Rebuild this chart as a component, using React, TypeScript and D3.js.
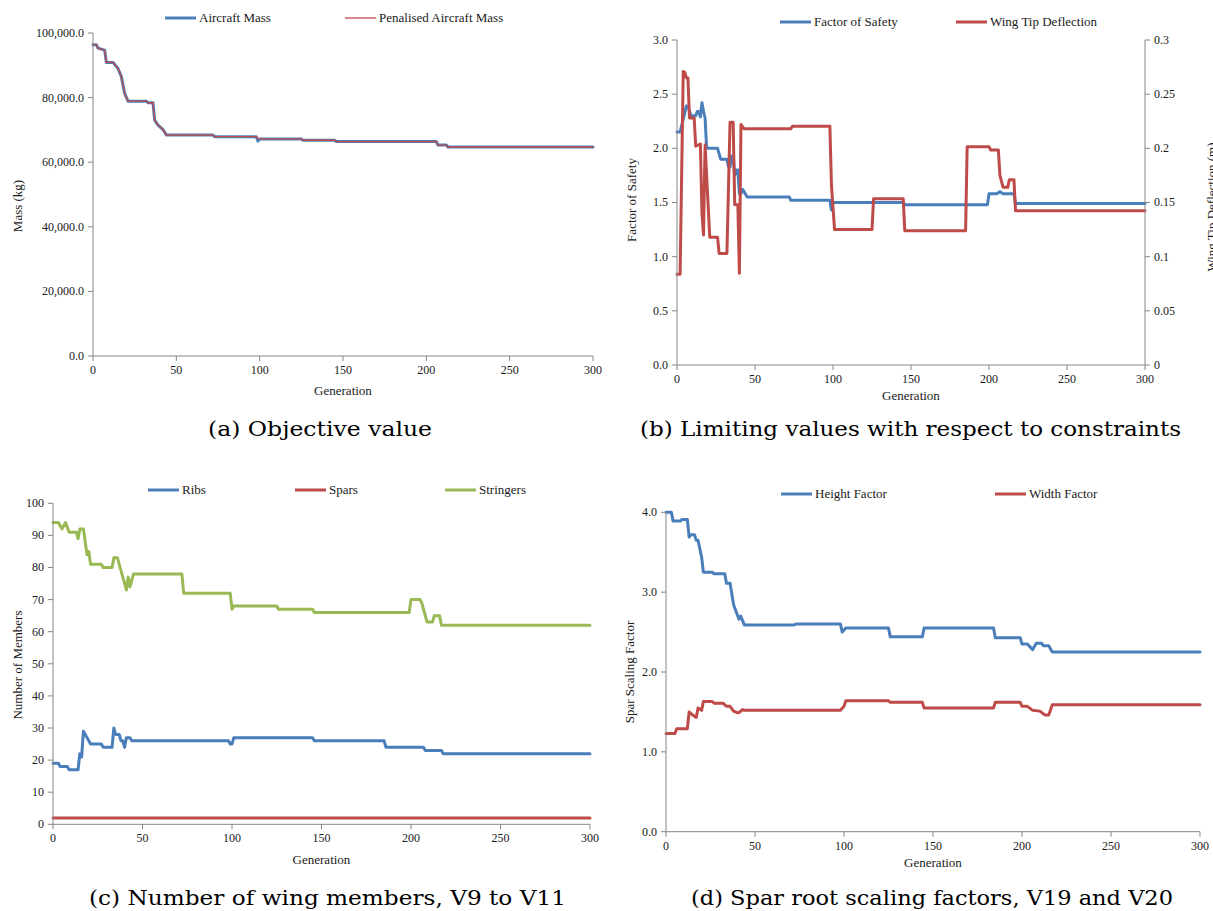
import React from 'react';
import * as d3 from 'd3';

type P = [number, number];

const generationTicks = [0, 50, 100, 150, 200, 250, 300];

// (a) Objective value
const aircraftMass: P[] = [
  [0, 96400], [2, 96400], [3, 95300], [5, 95000], [7, 94700], [8, 90900], [12, 90900], [13, 90300],
  [15, 89000], [17, 86500], [19, 81300], [21, 78900], [32, 78900], [33, 78400], [36, 78400],
  [37, 73000], [39, 71500], [42, 70100], [44, 68400], [72, 68400], [73, 67900], [98, 67900],
  [99, 66500], [100, 67200], [125, 67200], [126, 66800], [145, 66800], [146, 66400], [206, 66400],
  [207, 65300], [212, 65300], [213, 64700], [300, 64700],
];
const penalisedMass: P[] = [
  [0, 96400], [2, 96400], [3, 95300], [5, 95000], [7, 94700], [8, 90900], [12, 90900], [13, 90300],
  [15, 89000], [17, 86500], [19, 81300], [21, 78900], [32, 78900], [33, 78400], [36, 78400],
  [37, 73000], [39, 71500], [42, 70100], [44, 68400], [72, 68400], [73, 67900], [98, 67900],
  [99, 67200], [125, 67200], [126, 66800], [145, 66800], [146, 66400], [206, 66400],
  [207, 65300], [212, 65300], [213, 64700], [300, 64700],
];
const massTicks = [0, 20000, 40000, 60000, 80000, 100000];

// (b) Limiting values
const factorOfSafety: P[] = [
  [0, 2.15], [2, 2.15], [6, 2.39], [7, 2.39], [9, 2.30], [12, 2.30], [13, 2.34], [14, 2.34],
  [15, 2.29], [16, 2.42], [17, 2.34], [18, 2.28], [19, 2.0], [26, 2.0], [28, 1.90], [32, 1.90],
  [33, 1.83], [34, 1.83], [35, 1.93], [36, 1.93], [37, 1.75], [38, 1.80], [39, 1.80], [40, 1.58],
  [41, 1.58], [42, 1.62], [43, 1.60], [45, 1.55], [72, 1.55], [73, 1.52], [98, 1.52], [99, 1.43],
  [100, 1.50], [145, 1.50], [146, 1.48], [199, 1.48], [200, 1.58], [205, 1.58], [207, 1.60],
  [209, 1.58], [216, 1.58], [217, 1.49], [300, 1.49],
];
const wingTipDeflection: P[] = [
  [0, 0.0837], [2, 0.0837], [4, 0.271], [5, 0.27], [6, 0.265], [7, 0.265], [8, 0.228], [11, 0.228],
  [12, 0.202], [15, 0.204], [16, 0.14], [17, 0.12], [18, 0.203], [21, 0.118], [26, 0.118],
  [27, 0.103], [32, 0.103], [34, 0.224], [36, 0.224], [37, 0.148], [39, 0.148], [40, 0.0846],
  [41, 0.222], [43, 0.218], [73, 0.218], [74, 0.2205], [98, 0.2205], [99, 0.166], [101, 0.125],
  [125, 0.125], [126, 0.1535], [145, 0.1535], [146, 0.124], [185, 0.124], [186, 0.2015],
  [200, 0.2015], [201, 0.1985], [206, 0.1985], [207, 0.175], [209, 0.164], [212, 0.164],
  [213, 0.171], [216, 0.171], [217, 0.1425], [300, 0.1425],
];
const fosTicks = [0, 0.5, 1, 1.5, 2, 2.5, 3];
const deflectionTicks = [0, 0.05, 0.1, 0.15, 0.2, 0.25, 0.3];

// (c) Number of wing members
const ribs: P[] = [
  [0, 19], [3, 19], [4, 18], [8, 18], [9, 17], [14, 17], [15, 22], [16, 21], [17, 29], [18, 28],
  [19, 27], [20, 26], [21, 25], [27, 25], [28, 24], [33, 24], [34, 30], [35, 28], [37, 28],
  [38, 26], [39, 26], [40, 24], [41, 27], [43, 27], [44, 26], [98, 26], [99, 25], [100, 25],
  [101, 27], [145, 27], [146, 26], [185, 26], [186, 24], [207, 24], [208, 23], [217, 23],
  [218, 22], [300, 22],
];
const spars: P[] = [[0, 2], [300, 2]];
const stringers: P[] = [
  [0, 94], [3, 94], [5, 92], [7, 94], [9, 91], [13, 91], [14, 89], [15, 92], [17, 92], [18, 88],
  [19, 84], [20, 85], [21, 81], [27, 81], [28, 80], [33, 80], [34, 83], [36, 83], [39, 77],
  [41, 73], [42, 77], [43, 74], [45, 78], [72, 78], [73, 72], [99, 72], [100, 67], [101, 68],
  [125, 68], [126, 67], [145, 67], [146, 66], [199, 66], [200, 70], [205, 70], [206, 69],
  [207, 67], [209, 63], [212, 63], [213, 65], [216, 65], [217, 62], [300, 62],
];
const memberTicks = [0, 10, 20, 30, 40, 50, 60, 70, 80, 90, 100];

// (d) Spar root scaling factors
const heightFactor: P[] = [
  [0, 4.0], [3, 4.0], [4, 3.89], [8, 3.89], [9, 3.91], [12, 3.91], [13, 3.69], [14, 3.72],
  [16, 3.72], [17, 3.65], [18, 3.65], [20, 3.44], [21, 3.25], [26, 3.25], [27, 3.23], [33, 3.23],
  [34, 3.11], [36, 3.11], [38, 2.84], [39, 2.78], [41, 2.66], [42, 2.70], [44, 2.59], [72, 2.59],
  [73, 2.60], [98, 2.60], [99, 2.50], [101, 2.55], [125, 2.55], [126, 2.44], [144, 2.44],
  [145, 2.55], [184, 2.55], [185, 2.43], [199, 2.43], [200, 2.35], [203, 2.35], [206, 2.28],
  [208, 2.36], [211, 2.36], [212, 2.33], [215, 2.33], [217, 2.25], [300, 2.25],
];
const widthFactor: P[] = [
  [0, 1.23], [5, 1.23], [6, 1.29], [12, 1.29], [13, 1.50], [15, 1.46], [17, 1.43], [18, 1.55],
  [20, 1.52], [21, 1.63], [26, 1.63], [27, 1.61], [32, 1.61], [34, 1.57], [36, 1.57], [38, 1.51],
  [40, 1.49], [41, 1.49], [43, 1.53], [44, 1.52], [98, 1.52], [100, 1.57], [101, 1.64],
  [125, 1.64], [126, 1.62], [144, 1.62], [145, 1.55], [184, 1.55], [185, 1.62], [199, 1.62],
  [200, 1.57], [203, 1.57], [206, 1.52], [210, 1.51], [213, 1.46], [215, 1.46], [217, 1.59],
  [300, 1.59],
];
const factorTicks = [0, 1, 2, 3, 4];

const BLUE = '#4A7EBB';
const RED = '#BE4B48';
const GREEN = '#98B954';
const AXIS = '#868686';
const TEXT = '#1a1a1a';
const SERIF = "'Liberation Serif', serif";
const CAPTION_FONT = "'DejaVu Serif', serif";

type Series = { data: P[]; color: string; width: number; axis?: 'right' };
type Legend = { label: string; color: string; width: number; x: number };

type PanelProps = {
  x0: number; x1: number; yTop: number; yBot: number;
  yMax: number; yTicks: number[]; yFmt: (v: number) => string;
  yLabel: string; yLabelX: number; yLabelY: number;
  right?: { max: number; ticks: number[]; fmt: (v: number) => string; label: string; labelX: number; labelY: number };
  series: Series[];
  legend: Legend[]; legendY: number;
  genLabelY: number;
  caption: string; captionX: number; captionY: number; captionLen: number;
};

function Panel(p: PanelProps) {
  const x = d3.scaleLinear().domain([0, 300]).range([p.x0, p.x1]);
  const y = d3.scaleLinear().domain([0, p.yMax]).range([p.yBot, p.yTop]);
  const yr = p.right ? d3.scaleLinear().domain([0, p.right.max]).range([p.yBot, p.yTop]) : null;
  const txt = { fontFamily: SERIF, fill: TEXT } as const;
  return (
    <g>
      {p.series.map((s, i) => {
        const ys = s.axis === 'right' && yr ? yr : y;
        const line = d3.line<P>().x(d => x(d[0])).y(d => ys(d[1]));
        return (
          <path key={i} d={line(s.data) || ''} fill="none" stroke={s.color} strokeWidth={s.width}
            strokeLinejoin="round" strokeLinecap="round" />
        );
      })}
      <line x1={p.x0} x2={p.x0} y1={p.yTop} y2={p.yBot} stroke={AXIS} strokeWidth={1} />
      {p.yTicks.map(t => (
        <g key={'y' + t}>
          <line x1={p.x0 - 5} x2={p.x0} y1={y(t)} y2={y(t)} stroke={AXIS} />
          <text x={p.x0 - 9} y={y(t)} dy="0.33em" textAnchor="end" style={{ ...txt, fontSize: 12 }}>{p.yFmt(t)}</text>
        </g>
      ))}
      {p.right && yr && (
        <g>
          <line x1={p.x1} x2={p.x1} y1={p.yTop} y2={p.yBot} stroke={AXIS} strokeWidth={1} />
          {p.right.ticks.map(t => (
            <g key={'r' + t}>
              <line x1={p.x1} x2={p.x1 + 5} y1={yr(t)} y2={yr(t)} stroke={AXIS} />
              <text x={p.x1 + 9} y={yr(t)} dy="0.33em" textAnchor="start" style={{ ...txt, fontSize: 12 }}>{p.right!.fmt(t)}</text>
            </g>
          ))}
          <text transform={`translate(${p.right.labelX},${p.right.labelY}) rotate(-90)`} textAnchor="middle"
            style={{ ...txt, fontSize: 13 }}>{p.right.label}</text>
        </g>
      )}
      <line x1={p.x0} x2={p.x1} y1={p.yBot} y2={p.yBot} stroke={AXIS} strokeWidth={1} />
      {generationTicks.map(t => (
        <g key={'x' + t}>
          <line x1={x(t)} x2={x(t)} y1={p.yBot} y2={p.yBot + 5} stroke={AXIS} />
          <text x={x(t)} y={p.yBot + 18} textAnchor="middle" style={{ ...txt, fontSize: 12 }}>{t}</text>
        </g>
      ))}
      <text x={(p.x0 + p.x1) / 2} y={p.genLabelY} textAnchor="middle" style={{ ...txt, fontSize: 13 }}>Generation</text>
      <text transform={`translate(${p.yLabelX},${p.yLabelY}) rotate(-90)`} textAnchor="middle"
        style={{ ...txt, fontSize: 13 }}>{p.yLabel}</text>
      {p.legend.map(l => (
        <g key={l.label}>
          <line x1={l.x} x2={l.x + 31} y1={p.legendY} y2={p.legendY} stroke={l.color} strokeWidth={l.width} />
          <text x={l.x + 34} y={p.legendY} dy="0.33em" style={{ ...txt, fontSize: 13 }}>{l.label}</text>
        </g>
      ))}
      <text x={p.captionX} y={p.captionY} style={{ fontFamily: CAPTION_FONT, fontSize: 21, fill: '#000' }}
        textLength={p.captionLen} lengthAdjust="spacingAndGlyphs">{p.caption}</text>
    </g>
  );
}

const fmtMass = d3.format(',.1f');
const fmt1 = d3.format('.1f');
const fmtDefl = (v: number) => String(+v.toFixed(2));
const fmtInt = d3.format('d');

export default function App() {
  return (
    <svg width={1213} height={911} viewBox="0 0 1213 911"
      style={{ position: 'absolute', left: 0, top: 0, background: '#fff' }}>
      <rect x={0} y={0} width={1213} height={911} fill="#fff" />
      <Panel
        x0={93} x1={593} yTop={33} yBot={356} yMax={100000} yTicks={massTicks} yFmt={fmtMass}
        yLabel="Mass (kg)" yLabelX={22} yLabelY={206}
        series={[
          { data: aircraftMass, color: BLUE, width: 3 },
          { data: penalisedMass, color: RED, width: 1.3 },
        ]}
        legend={[
          { label: 'Aircraft Mass', color: BLUE, width: 3, x: 165 },
          { label: 'Penalised Aircraft Mass', color: RED, width: 1.3, x: 345 },
        ]}
        legendY={18} genLabelY={395}
        caption="(a) Objective value" captionX={208} captionY={436} captionLen={224}
      />
      <Panel
        x0={677} x1={1145} yTop={40} yBot={365} yMax={3} yTicks={fosTicks} yFmt={fmt1}
        yLabel="Factor of Safety" yLabelX={636} yLabelY={200}
        right={{ max: 0.3, ticks: deflectionTicks, fmt: fmtDefl, label: 'Wing Tip Deflection (m)', labelX: 1216, labelY: 207 }}
        series={[
          { data: factorOfSafety, color: BLUE, width: 3 },
          { data: wingTipDeflection, color: RED, width: 3, axis: 'right' },
        ]}
        legend={[
          { label: 'Factor of Safety', color: BLUE, width: 3, x: 780 },
          { label: 'Wing Tip Deflection', color: RED, width: 3, x: 956 },
        ]}
        legendY={22} genLabelY={400}
        caption="(b) Limiting values with respect to constraints" captionX={640} captionY={436} captionLen={541}
      />
      <Panel
        x0={53} x1={590} yTop={503.3} yBot={824.3} yMax={100} yTicks={memberTicks} yFmt={fmtInt}
        yLabel="Number of Members" yLabelX={22} yLabelY={665}
        series={[
          { data: spars, color: RED, width: 3 },
          { data: stringers, color: GREEN, width: 3 },
          { data: ribs, color: BLUE, width: 3 },
        ]}
        legend={[
          { label: 'Ribs', color: BLUE, width: 3, x: 148 },
          { label: 'Spars', color: RED, width: 3, x: 295 },
          { label: 'Stringers', color: GREEN, width: 3, x: 445 },
        ]}
        legendY={490} genLabelY={864}
        caption="(c) Number of wing members, V9 to V11" captionX={89} captionY={905} captionLen={477}
      />
      <Panel
        x0={666} x1={1200} yTop={512.3} yBot={831.7} yMax={4} yTicks={factorTicks} yFmt={fmt1}
        yLabel="Spar Scaling Factor" yLabelX={634} yLabelY={672}
        series={[
          { data: heightFactor, color: BLUE, width: 3 },
          { data: widthFactor, color: RED, width: 3 },
        ]}
        legend={[
          { label: 'Height Factor', color: BLUE, width: 3, x: 781 },
          { label: 'Width Factor', color: RED, width: 3, x: 995 },
        ]}
        legendY={494} genLabelY={867}
        caption="(d) Spar root scaling factors, V19 and V20" captionX={691} captionY={905} captionLen={482}
      />
    </svg>
  );
}
